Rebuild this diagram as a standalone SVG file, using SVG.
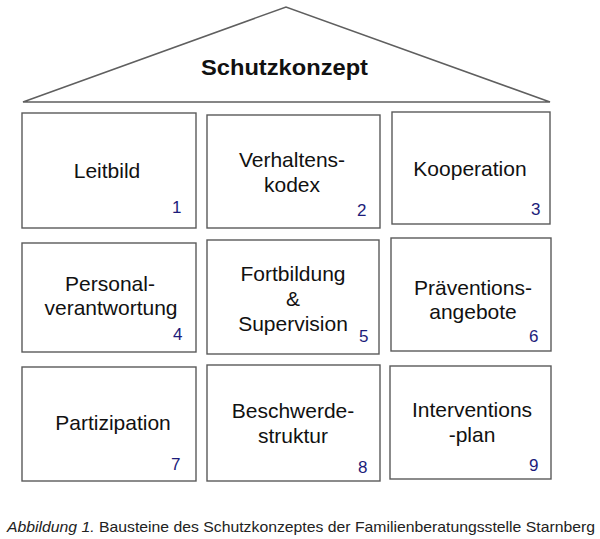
<svg xmlns="http://www.w3.org/2000/svg" width="600" height="539" viewBox="0 0 600 539">
<style>
.box{fill:#fff;stroke:#5a5a5a;stroke-width:1.4}
.roof{fill:#fff;stroke:#5f5f5f;stroke-width:1.5;stroke-linejoin:miter}
.t{font-family:"Liberation Sans",Arial,sans-serif;font-size:21px;fill:#111;text-anchor:middle}
.n{font-family:"Liberation Sans",Arial,sans-serif;font-size:17px;fill:#1c1c7a}
.title{font-family:"Liberation Sans",Arial,sans-serif;font-size:22px;font-weight:bold;fill:#111}
.cap{font-family:"Liberation Sans Narrow","Liberation Sans",Arial,sans-serif;font-size:15px;fill:#222}
</style>
<rect x="0" y="0" width="600" height="539" fill="#fff"/>
<g id="roof">
<polygon class="roof" points="23,102 286,7 550,102"/>
<text class="title" x="201" y="75" textLength="167" lengthAdjust="spacingAndGlyphs">Schutzkonzept</text>
</g>
<g id="connectors"></g>
<g id="n1"><rect class="box" x="22" y="113" width="174" height="115"/><text class="t" x="107" y="178">Leitbild</text><text class="n" x="172" y="213">1</text></g>
<g id="n2"><rect class="box" x="207" y="115" width="173" height="113"/><text class="t" x="292" y="167">Verhaltens-</text><text class="t" x="292" y="192">kodex</text><text class="n" x="357" y="216">2</text></g>
<g id="n3"><rect class="box" x="392" y="112" width="158" height="112"/><text class="t" x="470" y="176">Kooperation</text><text class="n" x="531" y="215">3</text></g>
<g id="n4"><rect class="box" x="22" y="243" width="174" height="109"/><text class="t" x="110" y="291">Personal-</text><text class="t" x="111" y="315">verantwortung</text><text class="n" x="173" y="340">4</text></g>
<g id="n5"><rect class="box" x="207" y="240" width="172" height="114"/><text class="t" x="293" y="281">Fortbildung</text><text class="t" x="293" y="306">&amp;</text><text class="t" x="293" y="331">Supervision</text><text class="n" x="359" y="342">5</text></g>
<g id="n6"><rect class="box" x="391" y="238" width="160" height="113"/><text class="t" x="473" y="295">Präventions-</text><text class="t" x="473" y="319">angebote</text><text class="n" x="529" y="342">6</text></g>
<g id="n7"><rect class="box" x="22" y="367" width="174" height="114"/><text class="t" x="113" y="430">Partizipation</text><text class="n" x="171" y="470">7</text></g>
<g id="n8"><rect class="box" x="207" y="365" width="173" height="116"/><text class="t" x="293" y="418">Beschwerde-</text><text class="t" x="293" y="443">struktur</text><text class="n" x="358" y="473">8</text></g>
<g id="n9"><rect class="box" x="390" y="366" width="161" height="113"/><text class="t" x="472" y="417">Interventions</text><text class="t" x="472" y="442">-plan</text><text class="n" x="529" y="471">9</text></g>
<text class="cap" x="7" y="532" textLength="588" lengthAdjust="spacingAndGlyphs"><tspan font-style="italic">Abbildung 1.</tspan> Bausteine des Schutzkonzeptes der Familienberatungsstelle Starnberg</text>
</svg>
